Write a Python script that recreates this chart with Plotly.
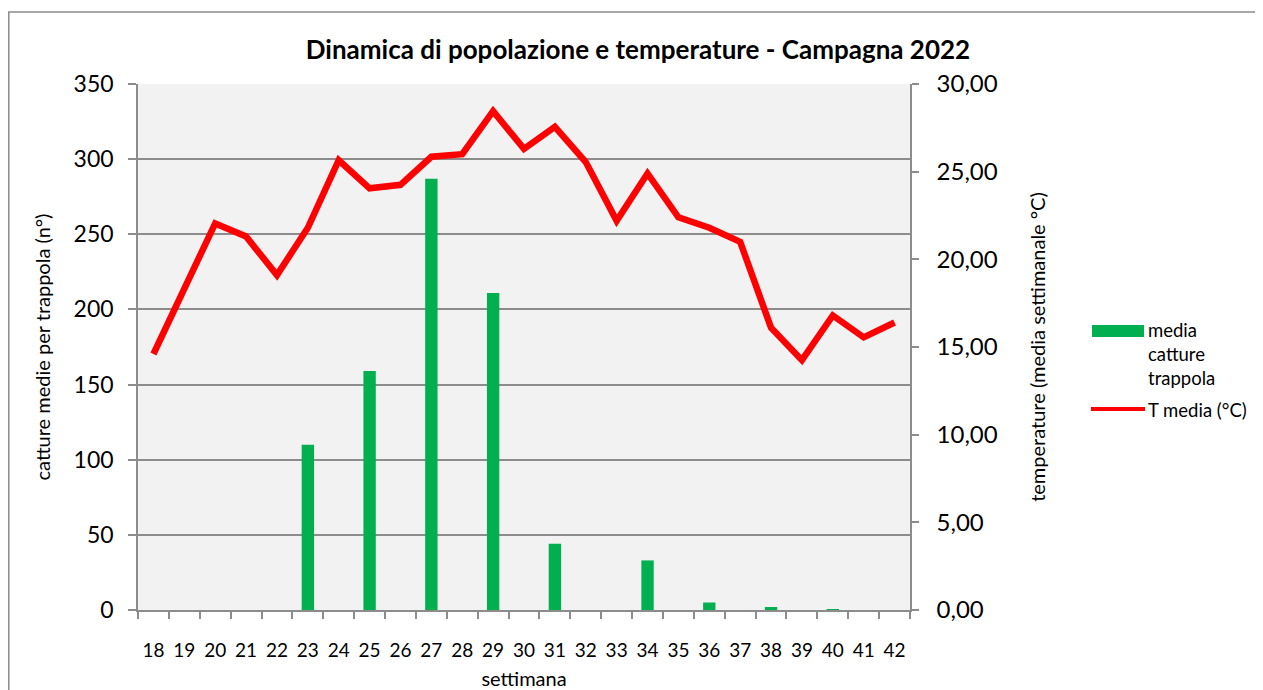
import plotly.graph_objects as go

weeks = [str(w) for w in range(18, 43)]
catture = [0, 0, 0, 0, 0, 110, 0, 159, 0, 287, 0, 211, 0, 44, 0, 0, 33, 0, 5, 0, 2, 0, 0.5, 0, 0]
t_media = [14.6, 18.25, 22.05, 21.3, 19.1, 21.8, 25.65, 24.05, 24.25, 25.85, 26.0, 28.45,
           26.3, 27.55, 25.55, 22.2, 24.9, 22.4, 21.8, 21.0, 16.1, 14.25, 16.8, 15.55, 16.4]

title_text = "Dinamica di popolazione e temperature - Campagna 2022"
y_left_title = "catture medie per trappola (n°)"
y_right_title = "temperature (media settimanale °C)"
x_title = "settimana"
legend_bar = "media<br>catture<br>trappola"
legend_line = "T media (°C)"

# the page body adds an 8px offset; the figure is sized to fill the window
OFF = 8
W, H = 1263 - OFF, 690 - OFF
L, R, T, B = 138 - OFF, 910 - OFF, 84 - OFF, 610 - OFF
FONT = "Lato, Carlito, Calibri, sans-serif"
GRID = "#8c8c8c"

def px(xp):
    return (xp - OFF - L) / (R - L)

def py(yp):
    return (B - (yp - OFF)) / (B - T)

fig = go.Figure()
fig.add_trace(go.Bar(x=weeks, y=catture, name="media catture trappola",
                     marker=dict(color="#00b050", line=dict(width=0)),
                     width=0.4, yaxis="y"))
fig.add_trace(go.Scatter(x=weeks, y=t_media, name=legend_line, mode="lines",
                         line=dict(color="#ff0000", width=6.5), yaxis="y2"))

shapes = [
    dict(type="rect", xref="paper", yref="paper", x0=px(8.8), x1=px(1300), y0=py(720), y1=py(12),
         line=dict(color="#8c8c8c", width=1.5), fillcolor="rgba(0,0,0,0)", layer="below"),
    dict(type="rect", xref="paper", yref="paper", x0=px(1092), x1=px(1144), y0=py(337), y1=py(325),
         line=dict(width=0), fillcolor="#00b050"),
    dict(type="line", xref="paper", yref="paper", x0=px(1091), x1=px(1145), y0=py(409), y1=py(409),
         line=dict(color="#ff0000", width=4)),
]
annotations = [
    dict(text=legend_bar, xref="paper", yref="paper", x=px(1146), y=py(317), xanchor="left",
         yanchor="top", align="left", showarrow=False, font=dict(family=FONT, size=18.5, color="black")),
    dict(text=legend_line, xref="paper", yref="paper", x=px(1146), y=py(410), xanchor="left",
         yanchor="middle", align="left", showarrow=False, font=dict(family=FONT, size=18.5, color="black")),
]

fig.update_layout(
    width=W, height=H,
    margin=dict(l=L, r=W - R, t=T, b=H - B, autoexpand=False),
    paper_bgcolor="white", plot_bgcolor="#f2f2f2",
    separators=",.",
    showlegend=False,
    font=dict(family=FONT, color="black"),
    title=dict(text="<b>" + title_text + "</b>", x=(638 - OFF) / W, xanchor="center",
               y=1 - (50 - OFF) / H, yanchor="middle", yref="container",
               font=dict(family=FONT, size=26, color="black")),
    xaxis=dict(type="category", tickson="boundaries", ticks="outside", ticklen=7,
               tickcolor=GRID, tickwidth=1.5, showline=True, linecolor=GRID, linewidth=1.5,
               showgrid=False, tickfont=dict(size=19), tickangle=0, ticklabelstandoff=22,
               automargin=False,
               title=dict(text=x_title, font=dict(size=20), standoff=17)),
    yaxis=dict(range=[0, 350], dtick=50, ticks="outside", ticklen=8, tickcolor=GRID, tickwidth=1.5,
               showline=True, linecolor=GRID, linewidth=1.5, showgrid=True, gridcolor=GRID,
               gridwidth=1.5, zeroline=False, tickfont=dict(size=23), ticklabelstandoff=10,
               automargin=False,
               title=dict(text=y_left_title, font=dict(size=20), standoff=18)),
    yaxis2=dict(range=[0, 30], dtick=5, tickformat=".2f", overlaying="y", side="right",
                ticks="outside", ticklen=7, tickcolor=GRID, tickwidth=1.5, showline=True,
                linecolor=GRID, linewidth=1.5, showgrid=False, zeroline=False,
                tickfont=dict(size=24), ticklabelstandoff=13, automargin=False,
                title=dict(text=y_right_title, font=dict(size=20), standoff=34)),
    shapes=shapes,
    annotations=annotations,
)

fig.write_html("out.html")
